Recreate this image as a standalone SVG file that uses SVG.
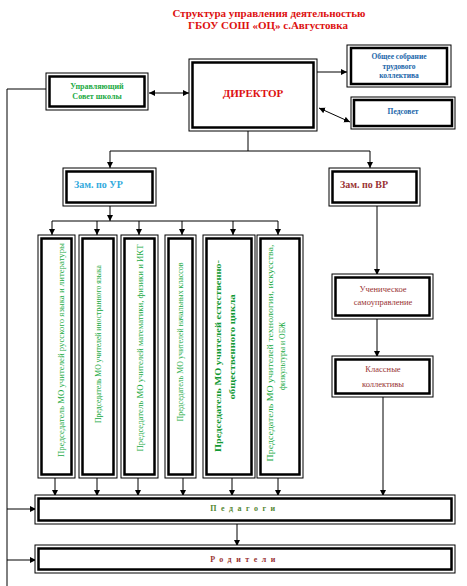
<svg xmlns="http://www.w3.org/2000/svg" width="467" height="586" viewBox="0 0 467 586">
<defs>
<marker id="ah" markerUnits="userSpaceOnUse" markerWidth="7" markerHeight="7" refX="6" refY="3" orient="auto-start-reverse">
<path d="M0,0 L6,3 L0,6 z" fill="#000"/>
</marker>
<style>
.o{fill:#fff;stroke:#000;stroke-width:1}
.i{fill:none;stroke:#000;stroke-width:2.5}
.c{fill:none;stroke:#000;stroke-width:1}
.a{marker-end:url(#ah)}
.b{marker-start:url(#ah);marker-end:url(#ah)}
text{font-family:"Liberation Serif","DejaVu Serif",serif}
.t{font-size:11px;font-weight:bold;fill:#dd1111;text-anchor:middle}
.g{font-size:8px;font-weight:bold;fill:#22aa44;text-anchor:middle}
.bl{font-size:7.5px;font-weight:bold;fill:#2266aa;text-anchor:middle}
.br{font-size:8.5px;fill:#993333;text-anchor:middle}
.mo{font-size:7.5px;fill:#22aa44;text-anchor:middle}
.mob{font-size:9px;font-weight:bold;fill:#119933;text-anchor:middle}
</style>
</defs>
<rect width="467" height="586" fill="#fff"/>
<g id="title">
<text class="t" x="269" y="17">Структура  управления  деятельностью</text>
<text class="t" x="268" y="29">ГБОУ СОШ «ОЦ» с.Августовка</text>
</g>
<g id="connectors">
<line class="c b" x1="149" y1="93" x2="189" y2="93"/>
<line class="c a" x1="317" y1="72" x2="347" y2="72"/>
<line class="c b" x1="319" y1="108" x2="350" y2="122"/>
<line class="c" x1="248" y1="131" x2="248" y2="151" stroke="#555"/>
<line class="c" x1="110" y1="151" x2="370" y2="151" stroke="#666"/>
<line class="c a" x1="110" y1="151" x2="110" y2="168"/>
<line class="c a" x1="370" y1="151" x2="370" y2="168"/>
<line class="c a" x1="110" y1="206" x2="110" y2="221"/>
<line class="c" x1="52" y1="221" x2="278" y2="221" stroke="#666"/>
<line class="c a" x1="52" y1="221" x2="52" y2="235"/>
<line class="c a" x1="97" y1="221" x2="97" y2="235"/>
<line class="c a" x1="139" y1="221" x2="139" y2="235"/>
<line class="c a" x1="182" y1="221" x2="182" y2="235"/>
<line class="c a" x1="233" y1="221" x2="233" y2="235"/>
<line class="c a" x1="278" y1="221" x2="278" y2="235"/>
<line class="c a" x1="55" y1="478" x2="55" y2="496"/>
<line class="c a" x1="97" y1="478" x2="97" y2="496"/>
<line class="c a" x1="138" y1="478" x2="138" y2="496"/>
<line class="c a" x1="183" y1="478" x2="183" y2="496"/>
<line class="c a" x1="232" y1="478" x2="232" y2="496"/>
<line class="c a" x1="278" y1="478" x2="278" y2="496"/>
<line class="c a" x1="377" y1="206" x2="377" y2="275"/>
<line class="c a" x1="377" y1="319" x2="377" y2="357"/>
<line class="c a" x1="383" y1="397" x2="383" y2="496"/>
<line class="c a" x1="237" y1="524" x2="237" y2="546"/>
<polyline class="c" points="46,89 7,89 7,586"/>
<line class="c a" x1="7" y1="509" x2="36" y2="509"/>
<line class="c a" x1="7" y1="560" x2="36" y2="560"/>
</g>
<g id="sovet">
<rect class="o" x="46" y="73" width="102" height="37"/>
<rect class="i" x="49.5" y="76.5" width="95" height="30"/>
<text class="g" x="97" y="89">Управляющий</text>
<text class="g" x="97" y="99">Совет школы</text>
</g>
<g id="director">
<rect class="o" x="189" y="59" width="128" height="72"/>
<rect class="i" x="192.5" y="62.5" width="121" height="65"/>
<text class="t" x="253" y="97" font-size="10">ДИРЕКТОР</text>
</g>
<g id="sobranie">
<rect class="o" x="347" y="45" width="104" height="42"/>
<rect class="i" x="351" y="48" width="96" height="36"/>
<text class="bl" x="399" y="59">Общее собрание</text>
<text class="bl" x="399" y="69">трудового</text>
<text class="bl" x="399" y="78">коллектива</text>
</g>
<g id="pedsovet">
<rect class="o" x="351" y="97" width="104" height="32"/>
<rect class="i" x="354" y="100" width="98" height="26"/>
<text class="bl" x="403" y="114">Педсовет</text>
</g>
<g id="zam-ur">
<rect class="o" x="63" y="168" width="93" height="38"/>
<rect class="i" x="66.5" y="171.5" width="86" height="31"/>
<text x="74" y="188" font-size="10" font-weight="bold" fill="#33aadd">Зам. по УР</text>
</g>
<g id="zam-vr">
<rect class="o" x="329" y="168" width="91" height="38"/>
<rect class="i" x="332.5" y="171.5" width="84" height="31"/>
<text x="340" y="188" font-size="10" font-weight="bold" fill="#993333">Зам. по ВР</text>
</g>
<g id="mo1">
<rect class="o" x="38" y="235" width="37" height="243"/>
<rect class="i" x="41.5" y="238.5" width="30" height="236"/>
<text class="mo" transform="translate(63.5,350) rotate(-90)" textLength="214" lengthAdjust="spacingAndGlyphs">Председатель МО учителей  русского языка и литературы</text>
</g>
<g id="mo2">
<rect class="o" x="79" y="235" width="38" height="243"/>
<rect class="i" x="82.5" y="238.5" width="31" height="236"/>
<text class="mo" transform="translate(100.5,344) rotate(-90)" textLength="158" lengthAdjust="spacingAndGlyphs">Председатель МО учителей  иностранного языка</text>
</g>
<g id="mo3">
<rect class="o" x="121" y="235" width="37" height="243"/>
<rect class="i" x="124.5" y="238.5" width="30" height="236"/>
<text class="mo" transform="translate(142.5,348) rotate(-90)" textLength="207" lengthAdjust="spacingAndGlyphs">Председатель МО учителей  математики, физики и ИКТ</text>
</g>
<g id="mo4">
<rect class="o" x="165" y="235" width="31" height="243"/>
<rect class="i" x="168.5" y="238.5" width="24" height="236"/>
<text class="mo" transform="translate(182.5,342) rotate(-90)" textLength="159" lengthAdjust="spacingAndGlyphs">Председатель МО учителей  начальных классов</text>
</g>
<g id="mo5">
<rect class="o" x="203" y="235" width="52" height="243"/>
<rect class="i" x="206.5" y="238.5" width="45" height="236"/>
<text class="mob" transform="translate(221,356) rotate(-90)" textLength="192" lengthAdjust="spacingAndGlyphs">Председатель  МО учителей  естественно-</text>
<text class="mob" transform="translate(235,347) rotate(-90)" textLength="105" lengthAdjust="spacingAndGlyphs">общественного цикла</text>
</g>
<g id="mo6">
<rect class="o" x="257" y="235" width="46" height="243"/>
<rect class="i" x="260.5" y="238.5" width="39" height="236"/>
<text class="mo" transform="translate(272.5,353) rotate(-90)" textLength="217" lengthAdjust="spacingAndGlyphs">Председатель МО учителей технологии, искусства,</text>
<text class="mo" transform="translate(284.5,356) rotate(-90)" textLength="68" lengthAdjust="spacingAndGlyphs">физкультуры и ОБЖ</text>
</g>
<g id="uchenicheskoe">
<rect class="o" x="332" y="274" width="101" height="45"/>
<rect class="i" x="335.5" y="277.5" width="94" height="38"/>
<text class="br" x="383" y="292">Ученическое</text>
<text class="br" x="383" y="305">самоуправление</text>
</g>
<g id="klassnye">
<rect class="o" x="332" y="356" width="101" height="41"/>
<rect class="i" x="335.5" y="359.5" width="94" height="34"/>
<text class="br" x="383" y="372">Классные</text>
<text class="br" x="383" y="387">коллективы</text>
</g>
<g id="pedagogi">
<rect class="o" x="35" y="495" width="420" height="29"/>
<rect class="i" x="38.5" y="498.5" width="413" height="22"/>
<text x="245" y="511" font-size="8" font-weight="bold" fill="#558833" text-anchor="middle" letter-spacing="4.5">Педагоги</text>
</g>
<g id="roditeli">
<rect class="o" x="35" y="545" width="420" height="28"/>
<rect class="i" x="38.5" y="548.5" width="413" height="21"/>
<text x="245" y="562" font-size="8" font-weight="bold" fill="#993333" text-anchor="middle" letter-spacing="4.5">Родители</text>
</g>
</svg>
